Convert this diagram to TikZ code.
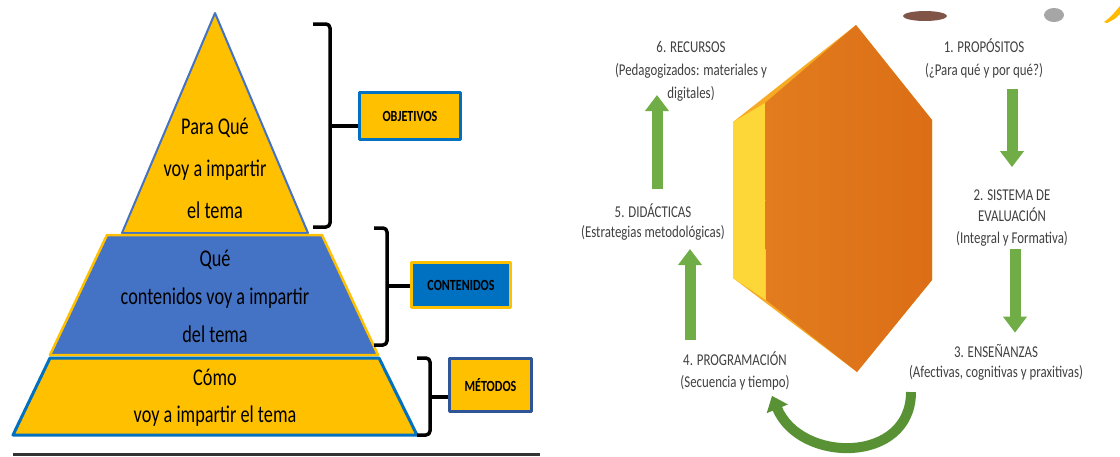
\documentclass[tikz,border=0pt]{standalone}
\usepackage{fontspec}
\setmainfont[FakeStretch=0.78]{Carlito}
\newfontfamily\tallfont[FakeStretch=0.76]{Carlito}
\usepackage{xcolor}
\usetikzlibrary{arrows.meta}

\definecolor{gold}{RGB}{255,192,0}
\definecolor{steel}{RGB}{68,114,196}
\definecolor{ocean}{RGB}{0,112,192}
\definecolor{navy}{RGB}{47,85,151}
\definecolor{leaf}{RGB}{112,173,71}
\definecolor{darkleaf}{RGB}{88,146,52}
\definecolor{txtgray}{RGB}{64,64,64}
\definecolor{hexorange}{RGB}{226,124,30}
\definecolor{hexdark}{RGB}{220,110,22}
\definecolor{hexyellow}{RGB}{253,214,55}
\definecolor{hexedge}{RGB}{247,170,35}
\definecolor{blotbrown}{RGB}{128,84,70}

\tikzset{
  layertext/.style={font=\tallfont\fontsize{24}{42}\selectfont, align=center, anchor=base, inner sep=0pt},
  cycletext/.style={font=\fontsize{16.5}{22}\selectfont, text=txtgray, align=center, anchor=base, inner sep=0pt},
  labelbox/.style={font=\bfseries\fontsize{15.5}{18}\selectfont, line width=3pt, inner sep=0pt},
  bracket/.style={line width=3.5pt, rounded corners=4pt},
  blockarrow/.style={line width=11pt, leaf, -{Triangle[width=23pt,length=16pt]}},
  curvearrow/.style={line width=10pt, darkleaf, -{Triangle[width=22pt,length=14pt]}},
}

\begin{document}
\begin{tikzpicture}[x=1pt,y=-1pt,line join=round]
  \useasboundingbox (0,0) rectangle (1120,456);

  % Pyramid
  \draw[fill=gold, draw=steel, line width=2pt] (215,13) -- (308,233) -- (122,233) -- cycle;
  \draw[fill=steel, draw=gold, line width=2.5pt] (107,235) -- (322,235) -- (378,355) -- (50,355) -- cycle;
  \draw[fill=gold, draw=ocean, line width=3pt] (50,358) -- (379,358) -- (417,435) -- (13,435) -- cycle;

  \node[layertext] (para) at (215,218) {Para Qué\\voy a impartir\\el tema};
  \node[layertext, font=\tallfont\fontsize{24}{38}\selectfont] (que) at (215,342) {Qué\\contenidos voy a impartir\\del tema};
  \node[layertext, font=\tallfont\fontsize{24}{37}\selectfont] (como) at (215,422) {Cómo\\voy a impartir el tema};

  \draw[line width=3pt, black!80] (13,454) -- (540,454);

  % Brackets and boxes
  \node[labelbox, fill=gold, draw=ocean, minimum width=101pt, minimum height=47pt] (obj) at (410,116) {OBJETIVOS};
  \node[labelbox, fill=ocean, draw=gold, minimum width=99pt, minimum height=45pt] (cont) at (461,285) {CONTENIDOS};
  \node[labelbox, fill=gold, draw=navy, minimum width=82pt, minimum height=53pt] (met) at (490.5,385) {MÉTODOS};

  \coordinate (objtip) at (330,126);
  \coordinate (conttip) at (387,286);
  \coordinate (mettip) at (430,397);
  \draw[bracket] (313,24) -| (objtip) |- (313,227);
  \draw[bracket] (374,228) -| (conttip) |- (374,345);
  \draw[bracket] (417,358) -| (mettip) |- (417,435);
  \draw[bracket] (objtip) -- (objtip -| obj.west);
  \draw[bracket] (conttip) -- (conttip -| cont.west);
  \draw[bracket] (mettip) -- (mettip -| met.west);

  % Hexagon
  \fill[hexedge] (856,25) -- (932,120) -- (932,280) -- (857,372) -- (733,278) -- (733,122) -- cycle;
  \fill[hexyellow] (733,122) -- (765,103) -- (766,300) -- (733,278) -- cycle;
  \shade[left color=hexorange, right color=hexdark] (856,25) -- (932,120) -- (932,280) -- (857,372) -- (766,300) -- (765,103) -- cycle;

  % Spots at the top
  \fill[blotbrown] (925,16) ellipse [x radius=22, y radius=5];
  \fill[black!35] (1054,15) ellipse [x radius=10, y radius=7];
  \fill[gold!90!orange] (1104,22) .. controls (1110,18) and (1115,12) .. (1120,6) -- (1120,14) .. controls (1115,19) .. (1107,23) -- cycle;

  % Cycle
  \node[cycletext, font=\fontsize{16.5}{23}\selectfont] (prop) at (984,75) {1. PROPÓSITOS\\(¿Para qué y por qué?)};
  \node[cycletext, font=\fontsize{16.5}{21.5}\selectfont] (eval) at (1012,243) {2. SISTEMA DE\\EVALUACIÓN\\(Integral y Formativa)};
  \node[cycletext, font=\fontsize{16.5}{20}\selectfont] (ens) at (996,377) {3. ENSEÑANZAS\\(Afectivas, cognitivas y praxitivas)};
  \node[cycletext] (prog) at (735,387) {4. PROGRAMACIÓN\\(Secuencia y tiempo)};
  \node[cycletext, font=\fontsize{16.5}{20}\selectfont] (did) at (653,237) {5. DIDÁCTICAS\\(Estrategias metodológicas)};
  \node[cycletext, font=\fontsize{16.5}{23}\selectfont] (rec) at (691,98) {6. RECURSOS\\(Pedagogizados: materiales y\\digitales)};

  \draw[blockarrow, shorten <=11pt, shorten >=22pt] (prop.south -| eval.north) -- (eval.north);
  \draw[blockarrow, shorten <=3pt, shorten >=11pt] ([xshift=3pt]eval.south) -- ([xshift=3pt]eval.south |- ens.north);
  \draw[curvearrow] ([xshift=-85pt,yshift=-12pt]ens.south) .. controls +(0,72) and +(28,68) .. ([xshift=37pt,yshift=-6pt]prog.south);
  \draw[blockarrow, shorten <=11pt, shorten >=9pt] ([xshift=-45pt]prog.north) -- ([xshift=-45pt]prog.north |- did.south);
  \draw[blockarrow, shorten <=14pt, shorten >=-6pt] ([xshift=4pt]did.north) -- ([xshift=4pt]did.north |- rec.south);
\end{tikzpicture}
\end{document}
